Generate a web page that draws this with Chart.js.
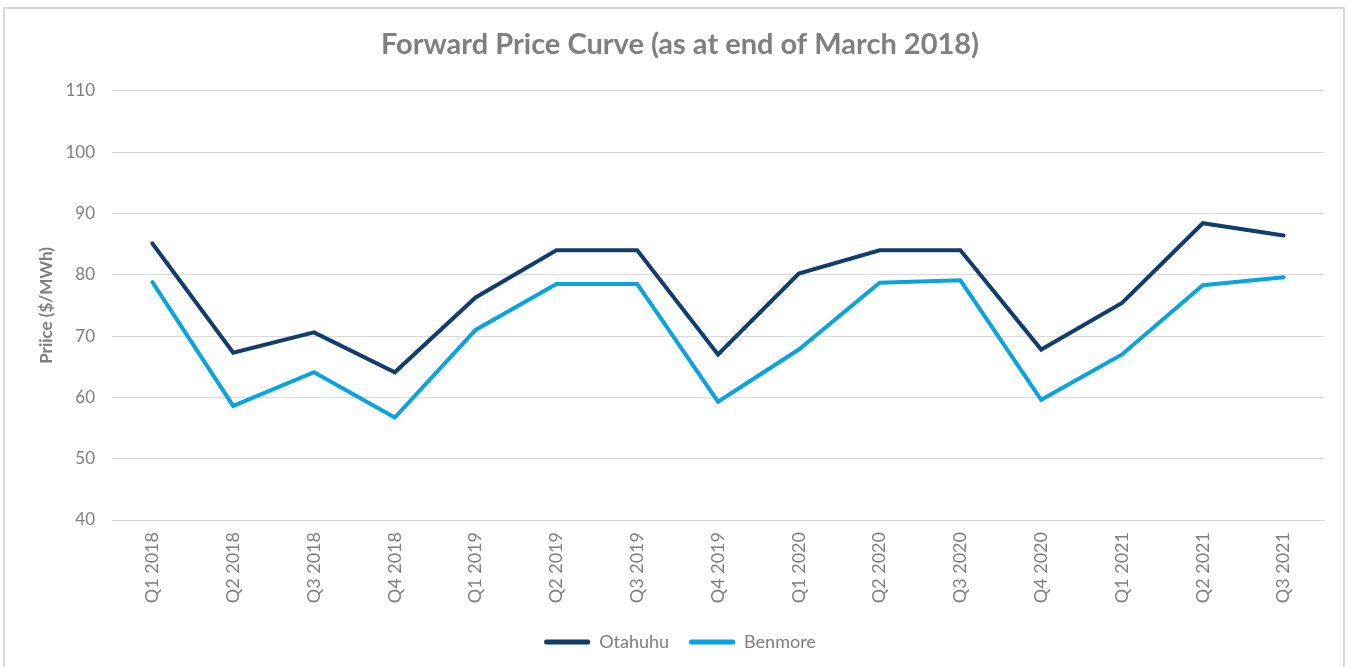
<!DOCTYPE html>
<html>
<head>
<meta charset="utf-8">
<script src="https://cdn.jsdelivr.net/npm/chart.js@4"></script>
<style>
  body { margin: 0; background: #fff; }
  .frame {
    position: absolute; left: 3px; top: 7px; width: 1342px; height: 700px;
    border: 2px solid #d9d9d9; box-sizing: border-box;
  }
  .wrap { position: absolute; left: 0; top: 0; width: 1350px; height: 667px; }
</style>
</head>
<body>
<div class="frame"></div>
<div class="wrap"><canvas id="chart"></canvas></div>
<script>
const quarters = ['Q1 2018', 'Q2 2018', 'Q3 2018', 'Q4 2018', 'Q1 2019', 'Q2 2019', 'Q3 2019', 'Q4 2019',
  'Q1 2020', 'Q2 2020', 'Q3 2020', 'Q4 2020', 'Q1 2021', 'Q2 2021', 'Q3 2021'];
const otahuhu = [85.1, 67.3, 70.6, 64.1, 76.3, 84.0, 84.0, 67.0, 80.2, 84.0, 84.0, 67.8, 75.4, 88.4, 86.4];
const benmore = [78.8, 58.6, 64.1, 56.7, 71.0, 78.5, 78.5, 59.3, 67.8, 78.7, 79.1, 59.6, 67.0, 78.3, 79.6];

const grey = '#7f7f7f';
const fontFamily = 'Lato, "Open Sans", sans-serif';

new Chart(document.getElementById('chart'), {
  type: 'line',
  data: {
    labels: quarters,
    datasets: [
      {
        label: 'Otahuhu',
        data: otahuhu,
        borderColor: '#123d6b',
        backgroundColor: '#123d6b',
        borderWidth: 4,
        pointRadius: 0,
        tension: 0,
        borderCapStyle: 'round',
      },
      {
        label: 'Benmore',
        data: benmore,
        borderColor: '#0aa3de',
        backgroundColor: '#0aa3de',
        borderWidth: 4,
        pointRadius: 0,
        tension: 0,
        borderCapStyle: 'round',
      },
    ],
  },
  options: {
    responsive: true,
    maintainAspectRatio: false,
    animation: false,
    layout: { padding: { left: 36, right: 26, top: 0, bottom: 6 } },
    plugins: {
      title: {
        display: true,
        text: 'Forward Price Curve (as at end of March 2018)',
        color: grey,
        font: { family: fontFamily, size: 29, weight: 'bold' },
        padding: { top: 27, bottom: 29 },
      },
      legend: {
        position: 'bottom',
        labels: {
          color: grey,
          font: { family: fontFamily, size: 18 },
          boxWidth: 46,
          boxHeight: 5,
          padding: 20,
          generateLabels: (chart) =>
            Chart.defaults.plugins.legend.labels.generateLabels(chart).map((item) => ({
              ...item,
              lineWidth: 0,
              borderRadius: 2,
            })),
          useBorderRadius: true,
        },
      },
      tooltip: { enabled: false },
    },
    scales: {
      x: {
        offset: true,
        grid: { display: false, drawTicks: false },
        border: { color: '#d9d9d9', width: 1 },
        ticks: {
          color: grey,
          font: { family: fontFamily, size: 18 },
          minRotation: 90,
          maxRotation: 90,
          padding: 12,
        },
        afterFit: (scale) => { scale.height = 93; },
      },
      y: {
        min: 40,
        max: 110,
        grid: { color: '#d9d9d9', lineWidth: 1, drawTicks: false },
        border: { display: false },
        ticks: {
          stepSize: 10,
          color: grey,
          font: { family: fontFamily, size: 17 },
          padding: 17,
        },
        title: {
          display: true,
          text: 'Priice ($/MWh)',
          color: grey,
          font: { family: fontFamily, size: 17, weight: 'bold' },
          padding: { top: 0, bottom: 6 },
        },
        afterFit: (scale) => { scale.width = 76; },
      },
    },
  },
});
</script>
</body>
</html>
